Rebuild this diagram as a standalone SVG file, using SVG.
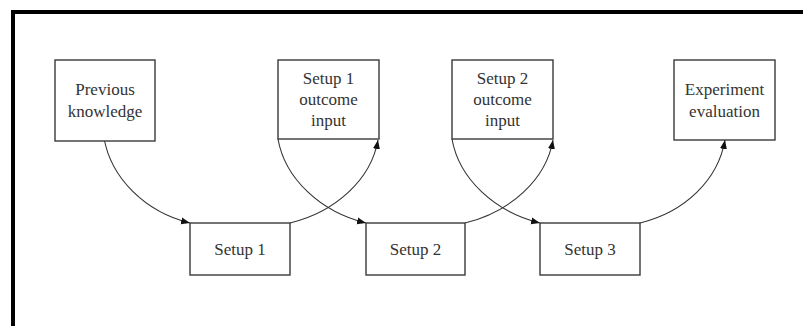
<svg xmlns="http://www.w3.org/2000/svg" width="803" height="326" viewBox="0 0 803 326">
<style>
.box{fill:#fff;stroke:#3a3a3a;stroke-width:1.4}
.t{font-family:"Liberation Serif","Times New Roman",serif;font-size:17px;fill:#333;text-anchor:middle}
.c{fill:none;stroke:#333;stroke-width:1.1;marker-end:url(#ah)}
</style>
<defs>
<marker id="ah" markerWidth="10" markerHeight="8" refX="9" refY="4" orient="auto" markerUnits="userSpaceOnUse">
<path d="M0,0.5 L9,4 L0,7.5 Z" fill="#111"/>
</marker>
</defs>
<rect x="0" y="0" width="803" height="326" fill="#fff"/>
<rect x="13" y="12" width="900" height="400" fill="none" stroke="#000" stroke-width="4"/>
<g id="connectors">
<path class="c" d="M104,138 C111,178 145,212 190,223"/>
<path class="c" d="M290,223 C335,212 371,180 378,140"/>
<path class="c" d="M278,139 C285,179 321,212 366,223"/>
<path class="c" d="M465,223 C510,212 546,180 553,140"/>
<path class="c" d="M452,139 C459,179 495,212 540,223"/>
<path class="c" d="M640,223 C685,212 718,180 725,140"/>
</g>
<g id="previous-knowledge">
<rect class="box" x="55" y="60" width="100" height="81"/>
<text class="t" x="105" y="95">Previous</text>
<text class="t" x="105" y="117">knowledge</text>
</g>
<g id="setup1-outcome">
<rect class="box" x="278" y="60" width="101" height="79"/>
<text class="t" x="328.5" y="84">Setup 1</text>
<text class="t" x="328.5" y="105">outcome</text>
<text class="t" x="328.5" y="126">input</text>
</g>
<g id="setup2-outcome">
<rect class="box" x="452" y="60" width="101" height="79"/>
<text class="t" x="502.5" y="84">Setup 2</text>
<text class="t" x="502.5" y="105">outcome</text>
<text class="t" x="502.5" y="126">input</text>
</g>
<g id="experiment-evaluation">
<rect class="box" x="674" y="60" width="101" height="80"/>
<text class="t" x="724.5" y="95">Experiment</text>
<text class="t" x="724.5" y="117">evaluation</text>
</g>
<g id="setup1">
<rect class="box" x="190" y="223" width="100" height="52"/>
<text class="t" x="240" y="255">Setup 1</text>
</g>
<g id="setup2">
<rect class="box" x="366" y="223" width="99" height="52"/>
<text class="t" x="415.5" y="255">Setup 2</text>
</g>
<g id="setup3">
<rect class="box" x="540" y="223" width="100" height="52"/>
<text class="t" x="590" y="255">Setup 3</text>
</g>
</svg>
